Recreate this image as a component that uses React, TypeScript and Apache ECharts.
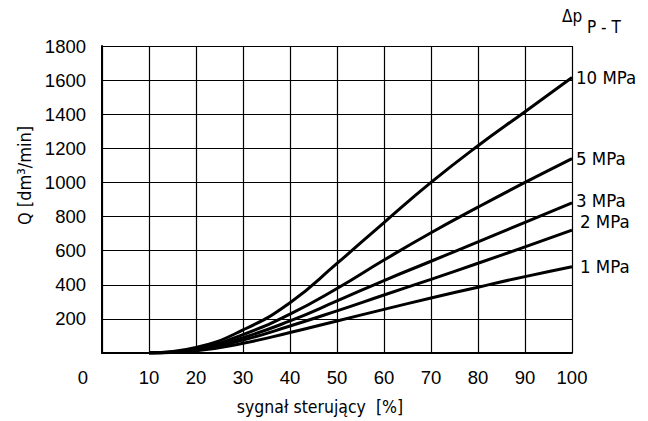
import React, { useEffect, useRef } from "react";
import * as echarts from "echarts";

const xValues = [10, 20, 30, 40, 50, 60, 70, 80, 90, 100];
const seriesNames = ["10 MPa", "5 MPa", "3 MPa", "2 MPa", "1 MPa"];
const q10 = [0, 32, 135, 295, 525, 765, 1000, 1215, 1415, 1615];
const q5 = [0, 24, 108, 228, 378, 545, 705, 855, 1000, 1140];
const q3 = [0, 19, 90, 188, 305, 425, 538, 652, 766, 880];
const q2 = [0, 16, 76, 158, 247, 340, 432, 526, 622, 720];
const q1 = [0, 13, 57, 120, 188, 256, 322, 386, 448, 506];
const seriesValues = [q10, q5, q3, q2, q1];
const labelOffsets = [[0, 0], [0, 0], [0, -2], [4, -9], [4, 0]];

const labelFont = "'DejaVu Sans Condensed', 'DejaVu Sans', sans-serif";
const numFont = "'Liberation Sans', Arial, sans-serif";

export default function App() {
  const ref = useRef<HTMLDivElement>(null);
  useEffect(() => {
    if (!ref.current) return;
    document.body.style.margin = "0";
    const chart = echarts.init(ref.current, null, { renderer: "svg" });
    chart.setOption({
      animation: false,
      backgroundColor: "#ffffff",
      grid: { left: 102, right: 76, top: 46, bottom: 67 },
      graphic: [
        {
          type: "text",
          left: 562,
          top: 7,
          style: { text: "Δp", font: `17px ${labelFont}`, fill: "#000" },
        },
        {
          type: "text",
          left: 587,
          top: 18,
          style: { text: "P - T", font: `17px ${labelFont}`, fill: "#000" },
        },
      ],
      xAxis: {
        type: "value",
        min: 0,
        max: 100,
        interval: 10,
        name: "sygnał sterujący  [%]",
        nameLocation: "middle",
        nameGap: 45,
        nameTextStyle: {
          color: "#000",
          fontSize: 17.5,
          fontFamily: labelFont,
          padding: [0, 34, 0, 0],
        },
        axisLine: { show: true, onZero: false, lineStyle: { color: "#000", width: 2 } },
        axisTick: { show: false },
        splitLine: { show: true, lineStyle: { color: "#000", width: 1.2 } },
        axisLabel: {
          color: "#000",
          fontSize: 18.5,
          fontFamily: numFont,
          margin: 15,
          formatter: (v: number) => (v === 0 ? "{z|0}" : String(v)),
          rich: {
            z: { fontSize: 18.5, fontFamily: numFont, color: "#000", padding: [0, 38, 0, 0] },
          },
        },
      },
      yAxis: {
        type: "value",
        min: 0,
        max: 1800,
        interval: 200,
        name: "Q [dm³/min]",
        nameLocation: "middle",
        nameGap: 66,
        nameTextStyle: {
          color: "#000",
          fontSize: 18,
          fontFamily: labelFont,
          padding: [0, 0, 0, 48],
        },
        axisLine: { show: true, onZero: false, lineStyle: { color: "#000", width: 2 } },
        axisTick: { show: false },
        splitLine: { show: true, lineStyle: { color: "#000", width: 1.2 } },
        axisLabel: {
          color: "#000",
          fontSize: 18.5,
          fontFamily: numFont,
          margin: 16,
          formatter: (v: number) => (v === 0 ? "" : String(v)),
        },
      },
      series: seriesNames.map((name, i) => ({
        name,
        type: "line",
        smooth: 0.5,
        symbol: "none",
        data: xValues.map((x, j) => [x, seriesValues[i][j]]),
        lineStyle: { color: "#000", width: 3 },
        endLabel: {
          show: true,
          formatter: "{a}",
          color: "#000",
          fontSize: 18.5,
          fontFamily: labelFont,
          distance: 4,
          offset: labelOffsets[i],
        },
      })),
    });
    return () => chart.dispose();
  }, []);
  return <div ref={ref} style={{ width: 648, height: 421 }} />;
}
